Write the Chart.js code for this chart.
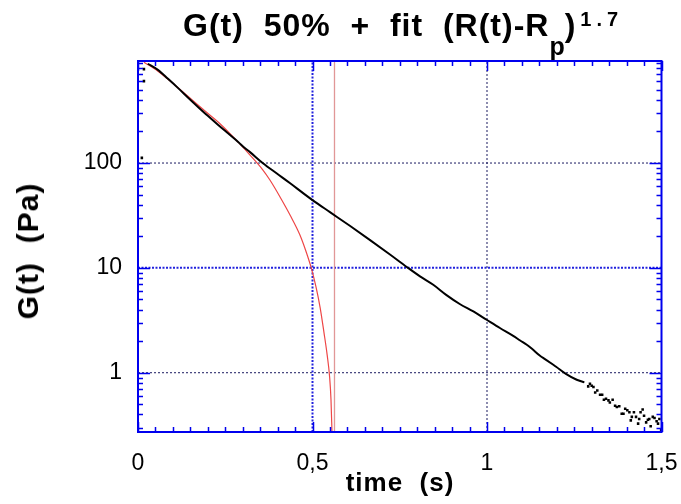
<!DOCTYPE html>
<html>
<head>
<meta charset="utf-8">
<script src="https://cdn.jsdelivr.net/npm/chart.js@4"></script>
<style>
  body { margin: 0; background: #fff; }
  #wrap { position: relative; width: 681px; height: 504px; font-family: 'Liberation Sans', Arial, sans-serif; color: #000; }
  #chart { position: absolute; left: 0; top: 0; }
  .lbl { position: absolute; font-weight: bold; white-space: pre; letter-spacing: 1px; line-height: 1; }
  #title { left: 183px; top: 9px; font-size: 32px; }
  #title .sub { position: relative; top: 19px; font-size: 25px; letter-spacing: 0; }
  #title .sup { position: relative; top: -10px; font-size: 20px; letter-spacing: 5px; margin-left: 4px; }
  #xTitle { left: 0; width: 800px; text-align: center; top: 469px; font-size: 26px; }
  #yTitle { left: 28px; top: 251px; font-size: 30px; transform: translate(-50%, -50%) rotate(-90deg); }
</style>
</head>
<body>
<div id="wrap">
  <canvas id="chart" width="681" height="504"></canvas>
  <div id="title" class="lbl">G(t)  50%  +  fit  (R(t)-R<span class="sub">p</span>)<span class="sup">1.7</span></div>
  <div id="xTitle" class="lbl">time  (s)</div>
  <div id="yTitle" class="lbl">G(t)  (Pa)</div>
</div>
<script>
// measured relaxation modulus, 50% strain
let mainTime = [0.028, 0.057, 0.086, 0.115, 0.143, 0.172, 0.200, 0.229, 0.258, 0.287,
    0.306, 0.321, 0.359, 0.397, 0.436, 0.474, 0.502, 0.550, 0.607, 0.665,
    0.722, 0.770, 0.808, 0.846, 0.884, 0.923, 0.961, 0.999, 1.037, 1.075,
    1.095, 1.114, 1.128, 1.152, 1.166, 1.190, 1.198, 1.226, 1.257, 1.279];
let mainG = [885, 774, 635, 518, 422, 343, 282, 232, 192, 159,
    139, 127, 99, 79.8, 64.1, 51.4, 43.8, 34.0, 25.2, 18.4,
    13.4, 10.2, 8.3, 6.9, 5.5, 4.5, 3.84, 3.2, 2.67, 2.25,
    2.03, 1.85, 1.70, 1.45, 1.35, 1.19, 1.14, 0.975, 0.857, 0.809];

// noisy tail and the first few samples, plotted as single dots
let dotTime = [0.011, 0.017, 0.017,
    1.290, 1.295, 1.300, 1.305, 1.310, 1.316, 1.324, 1.330, 1.335, 1.341,
    1.348, 1.352, 1.360, 1.367, 1.372, 1.379, 1.386, 1.391, 1.396, 1.402,
    1.408, 1.412, 1.415, 1.421, 1.427, 1.433, 1.436, 1.440, 1.446, 1.450,
    1.456, 1.461, 1.465, 1.469, 1.475, 1.480, 1.486, 1.490, 1.494, 1.499];
let dotG = [112, 604, 786,
    0.741, 0.785, 0.752, 0.731, 0.649, 0.678, 0.617, 0.617, 0.553, 0.565,
    0.545, 0.521, 0.553, 0.485, 0.471, 0.478, 0.407, 0.407, 0.454, 0.438,
    0.419, 0.351, 0.379, 0.419, 0.379, 0.327, 0.362, 0.419, 0.445, 0.389,
    0.336, 0.356, 0.362, 0.308, 0.379, 0.370, 0.344, 0.327, 0.362, 0.286];

// fit (R(t)-Rp)^1.7
let fitTime = [0.017, 0.057, 0.106, 0.152, 0.192, 0.238, 0.287, 0.321, 0.358, 0.378,
    0.407, 0.436, 0.464, 0.481, 0.496, 0.510, 0.522, 0.533, 0.542, 0.549,
    0.553, 0.556];
let fitG = [916, 752, 553, 409, 313, 232, 158, 119, 85.7, 68.9,
    47.5, 31.8, 20.6, 14.5, 10.1, 6.59, 4.16, 2.40, 1.48, 0.916,
    0.553, 0.26];
let rp = 0.563;

let xRange = [0, 1.5];
let yRange = [0.272, 940];
let xLabels = [0, 0.5, 1, 1.5];
let yLabels = [1, 10, 100];
let blueTime = [0.5];
let blueG = [10];
let gridTime = [1];
let gridG = [1, 100];

function pairs(xs, ys) {
    let out = [];
    for (let i = 0; i < xs.length; i++) {
        out.push({x: xs[i], y: ys[i]});
    }
    return out;
}

function isLabel(list, v) {
    for (let i = 0; i < list.length; i++) {
        if (Math.abs(list[i] - v) < 1e-6 * Math.max(1, list[i])) return true;
    }
    return false;
}

function refLine(points, color, width, dash) {
    return {
        data: points,
        showLine: true,
        borderColor: color,
        borderWidth: width,
        borderDash: dash,
        pointRadius: 0,
    };
}

let datasets = [
    {
        data: pairs(mainTime, mainG),
        showLine: true,
        borderColor: '#000',
        borderWidth: 2,
        pointRadius: 0,
        cubicInterpolationMode: 'monotone',
    },
    {
        data: pairs(dotTime, dotG),
        showLine: false,
        pointStyle: 'rect',
        pointRadius: 1.8,
        borderWidth: 0,
        backgroundColor: '#000',
    },
    {
        data: pairs(fitTime, fitG),
        showLine: true,
        borderColor: 'rgb(238,70,70)',
        borderWidth: 1.2,
        pointRadius: 0,
        cubicInterpolationMode: 'monotone',
    },
    refLine([{x: rp, y: yRange[0]}, {x: rp, y: yRange[1]}], 'rgba(222,140,140,0.9)', 1.3, []),
];

for (let i = 0; i < blueTime.length; i++) {
    datasets.push(refLine([{x: blueTime[i], y: yRange[0]}, {x: blueTime[i], y: yRange[1]}], '#2222dd', 2, [2, 1.5]));
}
for (let i = 0; i < blueG.length; i++) {
    datasets.push(refLine([{x: xRange[0], y: blueG[i]}, {x: xRange[1], y: blueG[i]}], '#2222dd', 2, [2, 1.5]));
}
for (let i = 0; i < gridTime.length; i++) {
    datasets.push(refLine([{x: gridTime[i], y: yRange[0]}, {x: gridTime[i], y: yRange[1]}], '#1a1a60', 1, [2, 2]));
}
for (let i = 0; i < gridG.length; i++) {
    datasets.push(refLine([{x: xRange[0], y: gridG[i]}, {x: xRange[1], y: gridG[i]}], '#1a1a60', 1, [2, 2]));
}

// blue box with inward tick marks on all four sides
let frameTicks = {
    id: 'frameTicks',
    afterDatasetsDraw(chart) {
        let ctx = chart.ctx;
        let a = chart.chartArea;
        let xs = chart.scales.x;
        let ys = chart.scales.y;
        ctx.save();
        ctx.strokeStyle = '#0000ee';
        ctx.lineWidth = 1.5;
        ctx.beginPath();
        xs.ticks.forEach(t => {
            let px = Math.round(xs.getPixelForValue(t.value)) + 0.5;
            let len = isLabel(xLabels, t.value) ? 10 : 5;
            ctx.moveTo(px, a.bottom);
            ctx.lineTo(px, a.bottom - len);
            ctx.moveTo(px, a.top);
            ctx.lineTo(px, a.top + len);
        });
        ys.ticks.forEach(t => {
            let py = Math.round(ys.getPixelForValue(t.value)) + 0.5;
            let len = isLabel(yLabels, t.value) ? 12 : 5;
            ctx.moveTo(a.left, py);
            ctx.lineTo(a.left + len, py);
            ctx.moveTo(a.right, py);
            ctx.lineTo(a.right - len, py);
        });
        ctx.stroke();
        ctx.lineWidth = 2;
        ctx.strokeRect(a.left, a.top, a.right - a.left, a.bottom - a.top);
        ctx.restore();
    }
};

let tickFont = {family: "'Liberation Sans', Arial, sans-serif", size: 23};

new Chart(document.getElementById('chart'), {
    type: 'scatter',
    data: {datasets: datasets},
    options: {
        responsive: false,
        animation: false,
        devicePixelRatio: 1,
        layout: {padding: {top: 61, right: 19.5, left: 8, bottom: 0}},
        plugins: {legend: {display: false}, tooltip: {enabled: false}},
        scales: {
            x: {
                type: 'linear',
                min: xRange[0],
                max: xRange[1],
                grid: {display: false, drawTicks: false},
                border: {display: false},
                afterFit(scale) {
                    scale.height = 72;
                    scale.paddingLeft = 0;
                    scale.paddingRight = 0;
                },
                afterBuildTicks(scale) {
                    let ticks = [];
                    for (let i = 0; i <= 30; i++) ticks.push({value: i * 5 / 100});
                    scale.ticks = ticks;
                },
                ticks: {
                    autoSkip: false,
                    maxRotation: 0,
                    minRotation: 0,
                    padding: 18,
                    color: '#000',
                    font: tickFont,
                    callback: v => isLabel(xLabels, v) ? String(Math.round(v * 10) / 10).replace('.', ',') : '',
                },
            },
            y: {
                type: 'logarithmic',
                min: yRange[0],
                max: yRange[1],
                grid: {display: false, drawTicks: false},
                border: {display: false},
                afterFit(scale) {
                    scale.width = 130;
                    scale.paddingTop = 0;
                    scale.paddingBottom = 0;
                },
                afterBuildTicks(scale) {
                    let ticks = [];
                    for (let e = -1; e <= 2; e++) {
                        for (let m = 1; m <= 9; m++) {
                            let v = m * Math.pow(10, e);
                            if (v >= yRange[0] && v <= yRange[1]) ticks.push({value: v});
                        }
                    }
                    scale.ticks = ticks;
                },
                ticks: {
                    autoSkip: false,
                    padding: 16,
                    color: '#000',
                    font: tickFont,
                    callback: v => isLabel(yLabels, v) ? String(Math.round(v)) : '',
                },
            },
        },
    },
    plugins: [frameTicks],
});
</script>
</body>
</html>
